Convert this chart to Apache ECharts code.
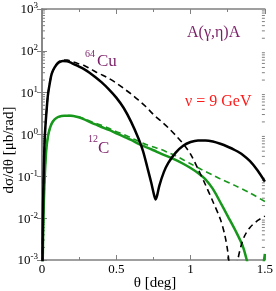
<!DOCTYPE html>
<html><head><meta charset="utf-8">
<script src="https://cdn.jsdelivr.net/npm/echarts@6/dist/echarts.min.js"></script>
<style>html,body{margin:0;padding:0;background:#fff}#c{width:276px;height:291px}</style>
</head><body><div id="c"></div>
<script>
// theta [deg] and dσ/dθ [μb/rad]
const cuFullTheta = [0.001,0.004,0.007,0.012,0.018,0.025,0.033,0.04,0.051,0.065,0.085,0.11,0.14,0.17,0.2,0.24,0.28,0.32,0.36,0.4,0.45,0.5,0.55,0.6,0.65,0.68,0.71,0.735,0.755,0.765,0.775,0.79,0.82,0.85,0.9,0.95,1.0,1.05,1.1,1.15,1.2,1.25,1.3,1.35,1.4,1.45,1.5];
const cuFullVal   = [3e-5,0.0025,0.0195,0.141,0.76,2.0,4.7,8.9,15.8,28,40,52,57.5,56,51,43.6,37,30,23.4,17.8,12,7.6,4.3,2.0,0.79,0.40,0.158,0.071,0.035,0.028,0.035,0.060,0.126,0.21,0.37,0.54,0.66,0.72,0.72,0.68,0.60,0.51,0.42,0.33,0.23,0.14,0.075];
const cuDashTheta = [0.001,0.004,0.007,0.012,0.018,0.025,0.033,0.04,0.051,0.065,0.085,0.11,0.14,0.17,0.2,0.24,0.28,0.32,0.36,0.4,0.45,0.5,0.55,0.6,0.65,0.7,0.75,0.8,0.85,0.9,0.95,1.0,1.05,1.1,1.15,1.2,1.23,1.25,1.265,1.285,1.305,1.32,1.34,1.364,1.4,1.45,1.5];
const cuDashVal   = [3e-5,0.0025,0.0195,0.141,0.76,2.0,4.7,8.9,15.8,28,41,54,60,60,56,50,45,38,31.6,27,21.9,17,12.6,9.3,6.6,4.6,3.0,2.1,1.45,0.95,0.60,0.34,0.15,0.063,0.025,0.0095,0.004,0.0016,0.0005,0.00006,0.0005,0.0011,0.0022,0.0038,0.006,0.0087,0.0112];
const cFullTheta  = [0.001,0.005,0.009,0.013,0.02,0.029,0.04,0.051,0.065,0.085,0.11,0.15,0.19,0.24,0.28,0.32,0.36,0.4,0.45,0.5,0.55,0.6,0.65,0.7,0.75,0.8,0.87,0.95,1.0,1.05,1.1,1.15,1.2,1.25,1.3,1.35,1.375,1.42,1.455,1.48,1.5];
const cFullVal    = [1e-5,0.001,0.0063,0.028,0.126,0.44,0.89,1.32,1.82,2.3,2.63,2.82,2.82,2.63,2.34,2.0,1.74,1.51,1.29,1.07,0.89,0.74,0.60,0.50,0.42,0.35,0.275,0.20,0.158,0.12,0.085,0.050,0.024,0.0112,0.0052,0.0022,0.0011,0.00025,0.00005,0.0004,0.0014];
const cDashTheta  = [0.001,0.005,0.009,0.013,0.02,0.029,0.04,0.051,0.065,0.085,0.11,0.15,0.19,0.24,0.28,0.32,0.36,0.4,0.45,0.5,0.55,0.6,0.65,0.7,0.75,0.8,0.85,0.9,0.95,1.0,1.07,1.15,1.2,1.3,1.4,1.5];
const cDashVal    = [1e-5,0.001,0.0063,0.028,0.126,0.44,0.89,1.32,1.82,2.3,2.63,2.82,2.85,2.69,2.4,2.09,1.86,1.66,1.41,1.17,1.0,0.83,0.69,0.575,0.50,0.44,0.37,0.31,0.25,0.20,0.148,0.107,0.087,0.060,0.040,0.025];
const xTicks = [0, 0.5, 1, 1.5];
const yMinorTickValues = [];
[0.001,0.01,0.1,1,10,100].forEach(d => { for (let m = 2; m <= 9; m++) yMinorTickValues.push(+(m*d).toPrecision(2)); });

const pair = (t, v) => t.map((x, i) => [x, v[i]]);
const SERIF = '"Liberation Serif","DejaVu Serif",serif';
const GREEN = '#17971b', PURPLE = '#7a1f67', AXC = '#808080';

const chart = echarts.init(document.getElementById('c'));
const xBase = {type:'value', min:0, max:1.5, interval:0.5,
  axisLine:{show:true,onZero:false,lineStyle:{color:AXC,width:1.5}},
  axisTick:{show:true,inside:true,length:5,lineStyle:{color:AXC}},
  minorTick:{show:true,splitNumber:2,length:3,lineStyle:{color:AXC}},
  splitLine:{show:false}};
const yBase = {type:'log', logBase:10, min:0.001, max:1000, splitNumber:6,
  axisLine:{show:true,lineStyle:{color:AXC,width:1.5}},
  axisTick:{show:true,inside:true,length:5,lineStyle:{color:AXC}},
  splitLine:{show:false}};
chart.setOption({
  animation:false,
  grid:{left:42,right:9,top:9,bottom:31},
  xAxis:[
    Object.assign({}, xBase, {position:'bottom',
      axisLabel:{color:'#000',fontFamily:SERIF,fontSize:13,margin:3,
        customValues:xTicks, formatter:v => String(v)}}),
    Object.assign({}, xBase, {position:'top', axisLabel:{show:false}})
  ],
  yAxis:[
    Object.assign({}, yBase, {position:'left',
      axisLabel:{margin:4,formatter:v => '{b|10}{s|' + Math.round(Math.log10(v)) + '}',
        rich:{b:{fontFamily:SERIF,fontSize:13,color:'#000',lineHeight:15,verticalAlign:'bottom'},
              s:{fontFamily:SERIF,fontSize:9,color:'#000',lineHeight:9,verticalAlign:'top'}}}}),
    Object.assign({}, yBase, {position:'right', axisLabel:{show:false}})
  ],
  graphic:[
    {type:'text',left:187,top:25,style:{text:'A(γ,η)A',font:'16px '+SERIF,fill:PURPLE}},
    {type:'text',left:185,top:94,style:{text:'ν = 9 GeV',font:'16px '+SERIF,fill:'#ff1a1a'}},
    {type:'text',left:85,top:49,style:{text:'64',font:'10px '+SERIF,fill:PURPLE}},
    {type:'text',left:97,top:53,style:{text:'Cu',font:'17px '+SERIF,fill:PURPLE}},
    {type:'text',left:88,top:134,style:{text:'12',font:'10px '+SERIF,fill:PURPLE}},
    {type:'text',left:98,top:140,style:{text:'C',font:'17px '+SERIF,fill:PURPLE}},
    {type:'text',x:155,y:283,style:{text:'θ [deg]',font:'15px '+SERIF,fill:'#000',align:'center',verticalAlign:'middle'}},
    {type:'text',x:9,y:150,rotation:Math.PI/2,style:{text:'dσ/dθ [μb/rad]',font:'15px '+SERIF,fill:'#000',align:'center',verticalAlign:'middle'}}
  ],
  series:[
    {type:'custom', silent:true, clip:false, z:1,
      data:yMinorTickValues.map(v => [0, v]),
      renderItem:(params, api) => {
        const v = api.value(1);
        const l = api.coord([0, v]), r = api.coord([1.5, v]);
        return {type:'group', children:[
          {type:'line',shape:{x1:l[0],y1:l[1],x2:l[0]+3,y2:l[1]},style:{stroke:AXC,lineWidth:1}},
          {type:'line',shape:{x1:r[0],y1:r[1],x2:r[0]-3,y2:r[1]},style:{stroke:AXC,lineWidth:1}}]};
      }},
    {type:'line',data:pair(cDashTheta,cDashVal),showSymbol:false,smooth:0.3,
      lineStyle:{color:GREEN,width:1.6,type:[6,4]},z:2},
    {type:'line',data:pair(cFullTheta,cFullVal),showSymbol:false,smooth:0.3,
      lineStyle:{color:GREEN,width:2.5},z:3},
    {type:'line',data:pair(cuDashTheta,cuDashVal),showSymbol:false,smooth:0.3,
      lineStyle:{color:'#000',width:1.6,type:[6,4]},z:4},
    {type:'line',data:pair(cuFullTheta,cuFullVal),showSymbol:false,smooth:0.3,
      lineStyle:{color:'#000',width:2.5},z:5}
  ]
});
</script></body></html>
